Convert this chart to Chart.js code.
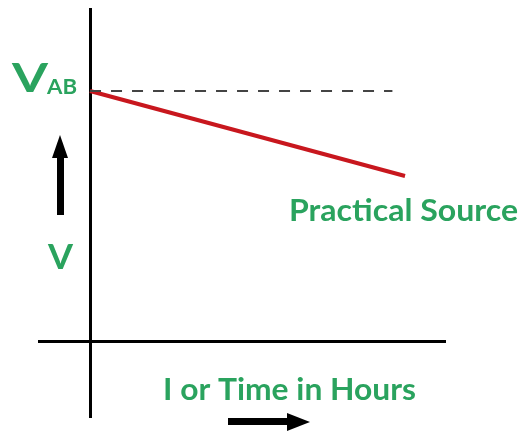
<!DOCTYPE html>
<html>
<head>
<meta charset="utf-8">
<script src="https://cdn.jsdelivr.net/npm/chart.js@4"></script>
<style>
  html, body { margin: 0; padding: 0; background: #fff; }
  #wrap { width: 522px; height: 433px; position: relative; }
</style>
</head>
<body>
<div id="wrap"><canvas id="c"></canvas></div>
<script>
// Data (arbitrary units: x = current/time, y = voltage)
const VAB = 10;                       // open-circuit voltage level
const practicalX = [0, 10];           // red line endpoints (x)
const practicalY = [10, 6.6];         // red line endpoints (y)
const refX = [0, 9.6];                // dashed V_AB reference line
const refY = [VAB, VAB];
const labels = {
  vab: 'V', vabSub: 'AB', v: 'V',
  series: 'Practical Source',
  xTitle: 'I or Time in Hours'
};

const green = '#2aa35e';

function fitText(ctx, text, x, y, size, width) {
  ctx.font = 'bold ' + size + 'px Lato';
  const w = ctx.measureText(text).width;
  ctx.save();
  ctx.translate(x, y);
  ctx.scale(width / w, 1);
  ctx.textAlign = 'left';
  ctx.fillText(text, 0, 0);
  ctx.restore();
}

const annot = {
  id: 'annot',
  afterDraw(chart) {
    const ctx = chart.ctx;
    ctx.save();
    ctx.fillStyle = green;
    ctx.textBaseline = 'alphabetic';
    fitText(ctx, labels.vab, 12, 92, 40, 36);
    fitText(ctx, labels.vabSub, 47, 94, 21, 30);
    fitText(ctx, labels.v, 48, 269, 35, 25);
    fitText(ctx, labels.series, 289, 221, 30, 229);
    fitText(ctx, labels.xTitle, 163, 400, 30, 253);

    // arrows
    ctx.fillStyle = '#000';
    // up arrow
    ctx.fillRect(57, 155, 7, 60);
    ctx.beginPath();
    ctx.moveTo(52, 158); ctx.lineTo(68, 158); ctx.lineTo(60, 135); ctx.closePath();
    ctx.fill();
    // right arrow
    ctx.fillRect(228, 418, 62, 7);
    ctx.beginPath();
    ctx.moveTo(287, 413); ctx.lineTo(287, 431); ctx.lineTo(310, 422); ctx.closePath();
    ctx.fill();
    ctx.restore();
  }
};

new Chart(document.getElementById('c'), {
  type: 'scatter',
  data: {
    datasets: [
      {
        data: refX.map((x, i) => ({ x, y: refY[i] })),
        showLine: true, borderColor: '#444', borderWidth: 1.8,
        borderDash: [11, 10], pointRadius: 0, clip: false
      },
      {
        data: practicalX.map((x, i) => ({ x, y: practicalY[i] })),
        showLine: true, borderColor: '#c8171e', borderWidth: 4,
        pointRadius: 0, clip: false
      }
    ]
  },
  options: {
    responsive: true, maintainAspectRatio: false, animation: false,
    layout: { padding: { left: 39, right: 77, top: 9, bottom: 16 } },
    plugins: { legend: { display: false }, tooltip: { enabled: false } },
    scales: {
      x: {
        type: 'linear', min: -1.62, max: 11.27, position: { y: 0 },
        grid: { display: false }, ticks: { display: false },
        border: { display: true, color: '#000', width: 3 }
      },
      y: {
        type: 'linear', min: -3.04, max: 13.28, position: { x: 0 },
        grid: { display: false }, ticks: { display: false },
        border: { display: true, color: '#000', width: 3 }
      }
    }
  },
  plugins: [annot]
});
</script>
</body>
</html>
